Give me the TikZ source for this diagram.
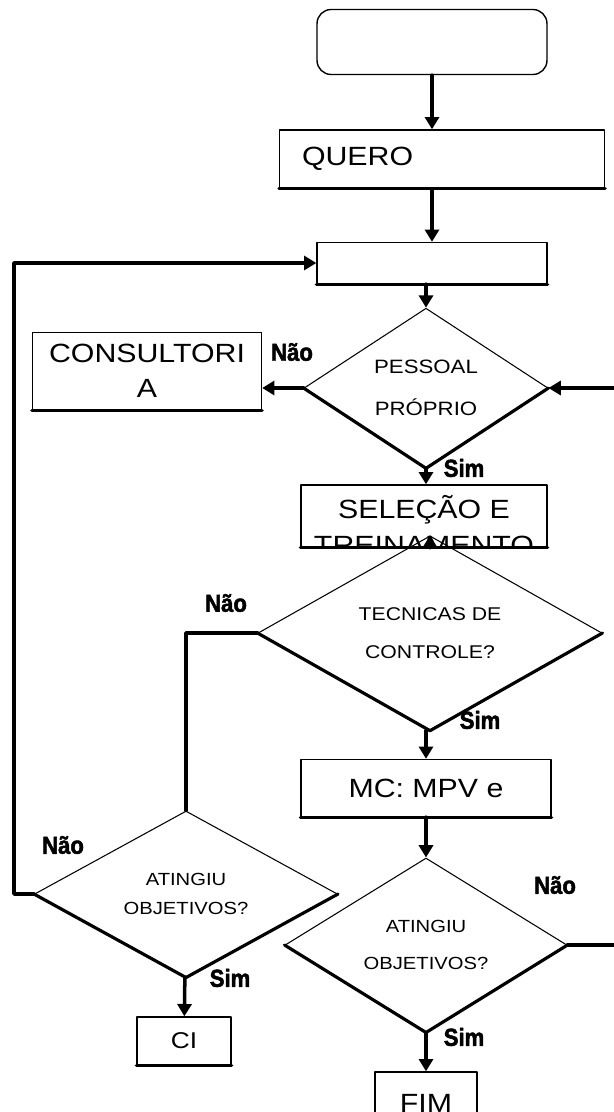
\documentclass[tikz,border=0pt]{standalone}
\usepackage{fontspec}
\setmainfont[FakeStretch=1.15]{Liberation Sans}
\newfontfamily\lblfont[FakeStretch=0.9,FakeBold=2]{Liberation Sans}
\usetikzlibrary{shapes.geometric,arrows.meta}
\begin{document}
\begin{tikzpicture}[x=0.02cm, y=-0.02cm, line cap=round, line join=round, >={Triangle[width=8pt,length=7pt]},
	caixa/.style={draw, line width=0.8pt, inner sep=0pt, font=\fontsize{15}{20}\selectfont, align=center},
	losango/.style={draw, diamond, line width=0.6pt, inner sep=0pt, align=center},
	seta/.style={->, line width=2pt},
	linha/.style={line width=2pt},
	rotulo/.style={font=\lblfont\bfseries\fontsize{14}{14}\selectfont}]
	\useasboundingbox (0,0) rectangle (613,1112);
	\node[caixa, rounded corners=8pt, minimum width=4.6cm, minimum height=1.3cm] (inicio) at (432,42) {};
	\node[caixa, text width=5.6cm, inner xsep=0.45cm, minimum height=1.16cm, align=left] (quero) at (442,159) {QUERO};
	\node[caixa, minimum width=4.6cm, minimum height=0.82cm] (etapa) at (432,263) {};
	\node[losango, minimum width=4.88cm, minimum height=2.92cm, font=\fontsize{11}{24}\selectfont] (pessoal) at (426,388) {PESSOAL\\PRÓPRIO};
	\node[caixa, minimum width=4.58cm, minimum height=1.54cm] (consultoria) at (147,371) {CONSULTORI\\A};
	\node[caixa, minimum width=4.92cm, minimum height=1.24cm] (selecao) at (424,516) {};
	\node[font=\fontsize{15}{20}\selectfont] (selecaoA) at (424,510) {SELEÇÃO E};
	\begin{scope}
		\clip (selecao.south west) rectangle (selecao.north east);
		\node[font=\fontsize{15}{20}\selectfont] (selecaoB) at (424,545) {TREINAMENTO};
	\end{scope}
	\node[losango, minimum width=6.88cm, minimum height=2.8cm, font=\fontsize{10.5}{22}\selectfont] (tecnicas) at (430,633) {TECNICAS DE\\CONTROLE?};
	\node[caixa, minimum width=5cm, minimum height=1.14cm] (mpv) at (426,788) {MC: MPV e};
	\node[losango, minimum width=6.06cm, minimum height=2.64cm, font=\fontsize{10}{16.5}\selectfont] (atingiuA) at (186,894) {ATINGIU\\OBJETIVOS?};
	\node[losango, minimum width=5.64cm, minimum height=2.9cm, font=\fontsize{10}{21}\selectfont] (atingiuB) at (426,945) {ATINGIU\\OBJETIVOS?};
	\node[caixa, minimum width=1.88cm, minimum height=0.96cm, font=\fontsize{13}{13}\selectfont] (ci) at (184,1041) {CI};
	\node[caixa, minimum width=2.04cm, minimum height=1.24cm] (fim) at (426,1103) {FIM};
	\foreach \c in {quero,etapa,consultoria,selecao,mpv,ci}
		\draw[line width=1.8pt] (\c.south west) -- (\c.south east);
	\foreach \d in {pessoal,tecnicas,atingiuA,atingiuB}
		\draw[line width=1.8pt] (\d.west) -- (\d.south) -- (\d.east);
	\coordinate (retornoE) at (14,0);
	\coordinate (retornoD) at (625,0);
	\draw[seta] (inicio.south) -- (inicio.south |- quero.north);
	\draw[seta] (quero.south -| etapa) -- (etapa.north);
	\draw[seta] (etapa.south -| pessoal) -- (pessoal.north);
	\draw[seta] (pessoal.west) -- (pessoal.west -| consultoria.east);
	\draw[seta] (pessoal.south) -- (pessoal.south |- selecao.north);
	\draw[seta] (selecao.south -| tecnicas) -- (tecnicas.north);
	\draw[linha] (tecnicas.west) -| (atingiuA.north);
	\draw[seta] (tecnicas.south -| mpv) -- (mpv.north);
	\draw[seta] (mpv) -- (atingiuB);
	\draw[seta] (atingiuB) -- (fim);
	\draw[seta] (atingiuA) -- (ci);
	\draw[seta] (atingiuA.west) -- (atingiuA.west -| retornoE) |- (etapa.west);
	\draw[seta] (atingiuB.east) -- (atingiuB.east -| retornoD) |- (pessoal.east);
	\node[rotulo] (naoA) at (292,352) {Não};
	\node[rotulo] (simA) at (464,468) {Sim};
	\node[rotulo] (naoB) at (226,603) {Não};
	\node[rotulo] (simB) at (480,720) {Sim};
	\node[rotulo] (naoC) at (63,845) {Não};
	\node[rotulo] (simC) at (230,978) {Sim};
	\node[rotulo] (naoD) at (555,885) {Não};
	\node[rotulo] (simD) at (464,1037) {Sim};
\end{tikzpicture}
\end{document}
